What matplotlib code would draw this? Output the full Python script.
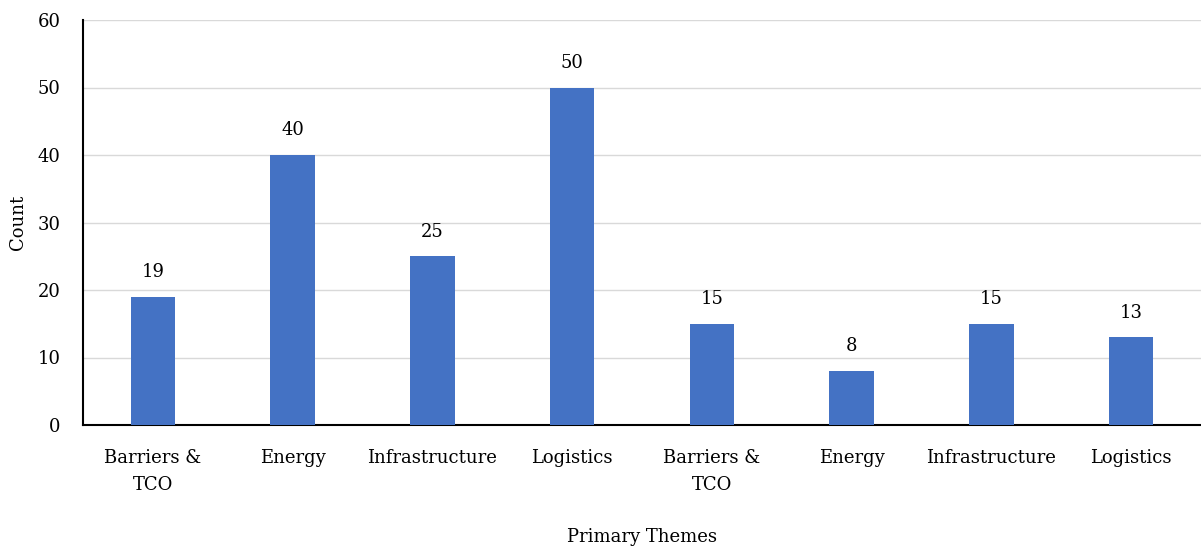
import numpy as np
import matplotlib.pyplot as plt

# Theme counts, two groups of four
themes = ["Barriers &\nTCO", "Energy", "Infrastructure", "Logistics",
          "Barriers &\nTCO", "Energy", "Infrastructure", "Logistics"]
counts = [19, 40, 25, 50, 15, 8, 15, 13]

plt.rcParams['font.family'] = ['DejaVu Serif']
plt.rcParams['font.size'] = 13

fig = plt.figure(figsize=(12.01, 5.5), dpi=100)
ax = fig.add_axes([83/1201, 1 - 425/550, 1 - 83/1201, (425 - 20)/550])

x = np.arange(len(counts))
bars = ax.bar(x, counts, width=0.32, color='#4472C4', zorder=3)
for xi, c in zip(x, counts):
    ax.text(xi, c + 2.3, str(c), ha='center', va='bottom')

ax.set_xlim(-0.5, len(counts) - 0.5)
ax.set_ylim(0, 60)
ax.set_yticks(np.arange(0, 61, 10))
ax.set_xticks(x)
ax.set_xticklabels(themes, linespacing=1.65)
ax.yaxis.grid(True, color='#D9D9D9', linewidth=1, zorder=0)
ax.tick_params(axis='x', length=0, pad=17)
ax.tick_params(axis='y', length=0, pad=16)

for s in ['top', 'right']:
    ax.spines[s].set_visible(False)
ax.spines['left'].set_linewidth(1.5)
ax.spines['bottom'].set_linewidth(1.5)

fig.text(18/1201, 1 - 222/550, "Count", rotation=90, ha='center', va='center')
fig.text(642/1201, 1 - 537/550, "Primary Themes", ha='center', va='center')

plt.savefig("out.png", dpi=100)
plt.close()
